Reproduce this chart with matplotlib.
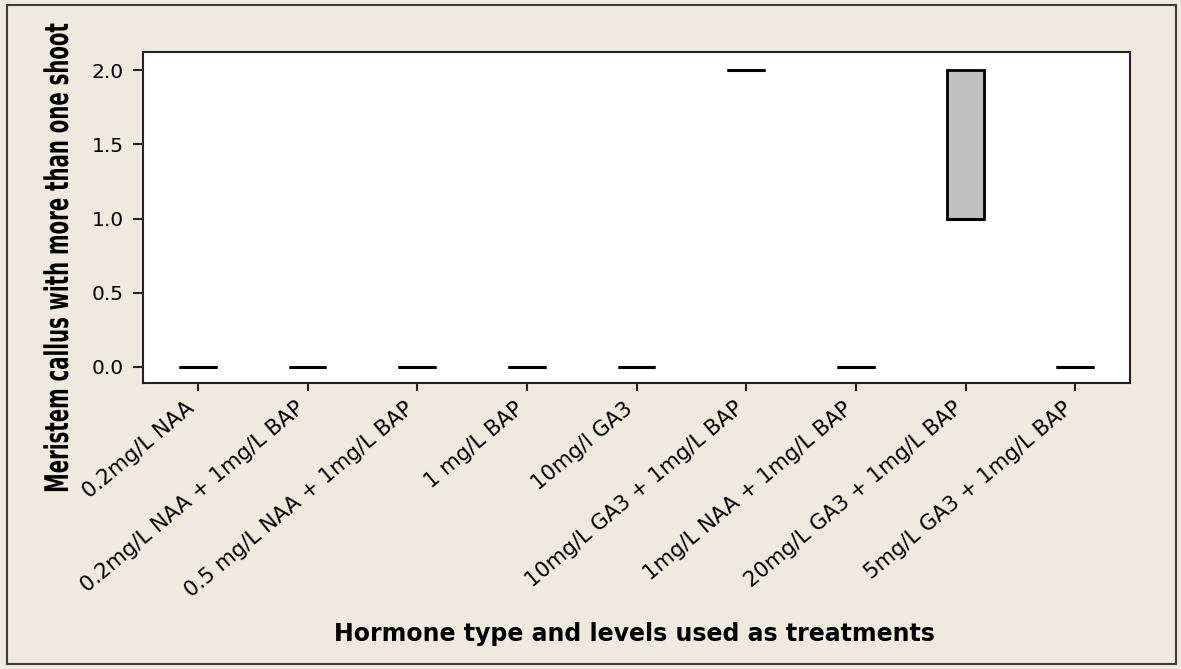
import matplotlib.pyplot as plt
from matplotlib.patches import Rectangle
from matplotlib.patheffects import AbstractPathEffect
from matplotlib.transforms import Affine2D, ScaledTranslation

# treatments and box statistics
treatments = ["0.2mg/L NAA", "0.2mg/L NAA + 1mg/L BAP", "0.5 mg/L NAA + 1mg/L BAP",
              "1 mg/L BAP", "10mg/l GA3", "10mg/L GA3 + 1mg/L BAP",
              "1mg/L NAA + 1mg/L BAP", "20mg/L GA3 + 1mg/L BAP", "5mg/L GA3 + 1mg/L BAP"]
q1 = [0, 0, 0, 0, 0, 2, 0, 1, 0]
median = [0, 0, 0, 0, 0, 2, 0, 1, 0]
q3 = [0, 0, 0, 0, 0, 2, 0, 2, 0]
lo = [0, 0, 0, 0, 0, 2, 0, 1, 0]
hi = [0, 0, 0, 0, 0, 2, 0, 2, 0]


# taller glyphs for the y label (the original uses a condensed bold face)
class Tall(AbstractPathEffect):
    def __init__(self, sy):
        super().__init__()
        self.sy = sy

    def draw_path(self, renderer, gc, tpath, affine, rgbFace=None):
        renderer.draw_path(gc, tpath, Affine2D().scale(1, self.sy) + affine, rgbFace)


bg = "#EEEAE0"
W, H = 1181, 669
fig = plt.figure(figsize=(W / 100, H / 100), dpi=100, facecolor=bg)
ax = fig.add_axes([143 / W, 1 - 383 / H, (1130 - 143) / W, (383 - 52) / H])

stats = []
for i in range(len(treatments)):
    stats.append({"med": median[i], "q1": q1[i], "q3": q3[i],
                  "whislo": lo[i], "whishi": hi[i], "label": treatments[i]})

ax.bxp(stats, positions=range(len(treatments)), widths=0.345, patch_artist=True,
       showfliers=False, showcaps=False,
       boxprops=dict(facecolor="#C0C0C0", edgecolor="black", linewidth=2),
       medianprops=dict(color="black", linewidth=2.2),
       whiskerprops=dict(color="black", linewidth=1.5))

ax.set_xlim(-0.5, 8.5)
ax.set_ylim(-0.110, 2.124)
ax.set_yticks([0, 0.5, 1.0, 1.5, 2.0])
ax.set_yticklabels(["0.0", "0.5", "1.0", "1.5", "2.0"])
ax.set_xticks(range(len(treatments)))
ax.set_xticklabels(treatments, rotation=40, ha="right", va="center", rotation_mode="anchor")
ax.tick_params(axis="y", labelsize=14.5, length=7, width=1.5, pad=7, color="#222222")
ax.tick_params(axis="x", labelsize=15.2, length=5.5, width=1.5, pad=9.5, color="#222222")
shift = ScaledTranslation(-6 / 100, -2 / 100, fig.dpi_scale_trans)
for lbl in ax.get_xticklabels():
    lbl.set_transform(lbl.get_transform() + shift)
for s in ax.spines.values():
    s.set_linewidth(1.5)
    s.set_color("#222222")

ax.set_ylabel("Meristem callus with more than one shoot", fontsize=14.2, fontweight="bold")
ax.yaxis.label.set_va("baseline")
ax.yaxis.label.set_path_effects([Tall(1.65)])
ax.yaxis.set_label_coords(-0.076, 0.379)
ax.set_xlabel("Hormone type and levels used as treatments", fontsize=17, fontweight="bold")
ax.xaxis.label.set_va("baseline")
ax.xaxis.set_label_coords(0.4975, -0.7795)

fig.patches.append(Rectangle((7 / W, 5 / H), 1169 / W, 659 / H, transform=fig.transFigure,
                             fill=False, edgecolor="#3C3C3C", linewidth=1.5))

fig.savefig("out.png", dpi=100, facecolor=bg)
